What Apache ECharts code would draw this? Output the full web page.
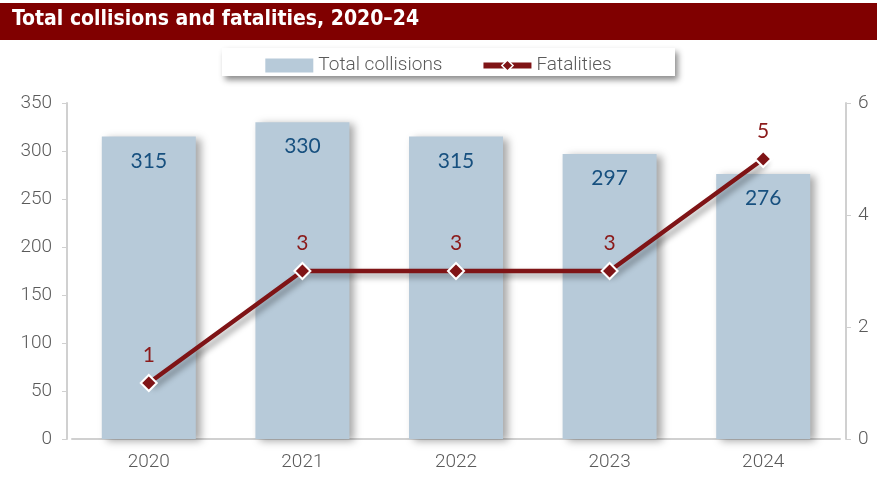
<!DOCTYPE html>
<html><head><meta charset="utf-8">
<script src="https://cdn.jsdelivr.net/npm/echarts@6/dist/echarts.min.js"></script>
<style>html,body{margin:0;padding:0;background:#fff}#c{width:877px;height:481px}</style>
</head><body><div id="c"></div>
<script>
const years = ['2020','2021','2022','2023','2024'];
const collisions = [315, 330, 315, 297, 276];
const fatalities = [1, 3, 3, 3, 5];
const leftTicks = [0, 350, 50];
const rightTicks = [0, 6, 2];

const chart = echarts.init(document.getElementById('c'));
const grey = '#5a5a5a';
chart.setOption({
  animation: false,
  graphic: [
    {type:'rect', shape:{x:0,y:3,width:877,height:37}, style:{fill:'#800000'}, z:0},
    {type:'text', left:12, top:9, style:{text:'Total collisions and fatalities, 2020–24', fill:'#fff', font:'bold 21px "Liberation Sans Narrow", "DejaVu Sans Condensed", sans-serif'}},
    {type:'rect', shape:{x:222,y:48,width:453,height:28}, style:{fill:'#fff', shadowBlur:6, shadowOffsetX:3, shadowOffsetY:4, shadowColor:'rgba(0,0,0,0.45)'}, z:1}
  ],
  legend: {
    top: 51, left: 'center', itemGap: 38,
    textStyle:{color:grey, fontSize:19, fontFamily:'Roboto', fontWeight:300},
    z: 5,
    data:[
      {name:'Total collisions', icon:'rect', itemStyle:{color:'#b7cad9'}},
      {name:'Fatalities', lineStyle:{width:6, color:'#7f1416'}, itemStyle:{color:'#7f1416', borderColor:'#fff', borderWidth:1.5}}
    ],
    itemWidth: 48, itemHeight: 14
  },
  grid: {left:72, right:37, top:103, bottom:42},
  xAxis: {
    type:'category', data: years,
    axisLine:{lineStyle:{color:'#d0d0d0', width:2}},
    axisTick:{show:false},
    axisLabel:{color:grey, fontSize:19, margin:14, fontFamily:'Roboto', fontWeight:300}
  },
  yAxis: [
    {type:'value', min:leftTicks[0], max:leftTicks[1], interval:leftTicks[2], offset:5,
     axisLine:{show:true, lineStyle:{color:'#d0d0d0', width:2}},
     axisTick:{show:true, length:5, lineStyle:{color:'#d0d0d0'}},
     splitLine:{show:false},
     axisLabel:{color:grey, fontSize:19, margin:15, fontFamily:'Roboto', fontWeight:300}},
    {type:'value', min:rightTicks[0], max:rightTicks[1], interval:rightTicks[2], offset:6,
     axisLine:{show:true, lineStyle:{color:'#d0d0d0', width:2}},
     axisTick:{show:true, length:5, lineStyle:{color:'#d0d0d0'}},
     splitLine:{show:false},
     axisLabel:{color:grey, fontSize:19, margin:12, fontFamily:'Roboto', fontWeight:300}}
  ],
  series: [
    {name:'Total collisions', type:'bar', data: collisions, barWidth:94,
     itemStyle:{color:'#b7cad9', shadowBlur:8, shadowOffsetX:5, shadowOffsetY:2, shadowColor:'rgba(0,0,0,0.35)'},
     label:{show:true, position:'insideTop', distance:14, color:'#17507f', fontSize:21, fontFamily:'Lato', fontWeight:'normal'}},
    {name:'Fatalities', type:'line', yAxisIndex:1, data: fatalities,
     symbol:'diamond', symbolSize:16,
     lineStyle:{color:'#7f1416', width:4.5, shadowBlur:6, shadowOffsetX:4, shadowOffsetY:4, shadowColor:'rgba(0,0,0,0.4)'},
     itemStyle:{color:'#7f1416', borderColor:'#fff', borderWidth:2},
     label:{show:true, position:'top', distance:8, color:'#8b1a1a', fontSize:21, fontFamily:'Lato', fontWeight:'normal'}}
  ]
});
</script></body></html>
